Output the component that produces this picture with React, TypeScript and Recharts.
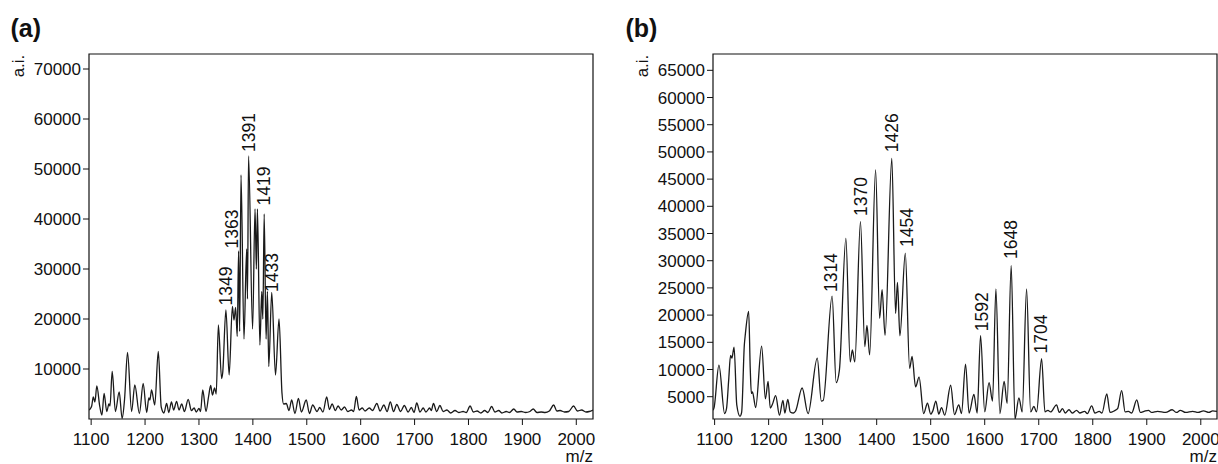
import React from "react";
import {
  ComposedChart,
  Line,
  Scatter,
  XAxis,
  YAxis,
  ReferenceArea,
} from "recharts";

const FONT = '"Liberation Sans", Arial, Helvetica, sans-serif';
const INK = "#111";

// ---------- Panel (a) ----------
const xTicks = [1100, 1200, 1300, 1400, 1500, 1600, 1700, 1800, 1900, 2000];
const yTicksA = [10000, 20000, 30000, 40000, 50000, 60000, 70000];
const domainXA: [number, number] = [1096, 2031];
const domainYA: [number, number] = [0, 73000];

// [m/z, intensity]
const spectrumA: [number, number][] = [
  [1096, 1800], [1098, 2000], [1101, 2600], [1104, 4400], [1107, 3400], [1110.5, 6600],
  [1116, 2500], [1120, 800], [1124, 5100], [1129, 1500], [1133, 3000], [1135, 2600],
  [1139, 9500], [1145, 1500], [1152, 5400], [1157.5, 100], [1162, 4000], [1167.5, 13300],
  [1175, 1500], [1181, 6800], [1189.5, 1100], [1196.5, 7100], [1203, 1300], [1207, 4200],
  [1209, 3800], [1212, 5800], [1218, 2800], [1224.5, 13500], [1230, 2400], [1235, 1200],
  [1240, 3100], [1244, 1300], [1249, 3400], [1253, 1800], [1258.5, 3500], [1263, 1800],
  [1268, 3000], [1273, 1500], [1280, 3900], [1286, 1700], [1291, 2200], [1295, 1400],
  [1300, 2100], [1303, 1500], [1307, 5800], [1313, 1500], [1318, 4600], [1321.7, 6700],
  [1325, 4800], [1329, 6200], [1332, 5000], [1336, 18800], [1342, 8100], [1344, 9200],
  [1350, 21800], [1356, 8800], [1362, 22500], [1365, 19800], [1368, 22300], [1371, 16500],
  [1373.5, 33600], [1375.5, 17500], [1378, 48800], [1383.5, 16000], [1388.5, 34000],
  [1390, 24000], [1392, 52600], [1399.5, 18000], [1404, 42000], [1406.5, 30000],
  [1408.5, 42000], [1413, 14800], [1416.5, 25500], [1418.5, 20000], [1421, 41000],
  [1424.5, 16000], [1427, 25500], [1429.5, 10500], [1435, 25300], [1442, 8800],
  [1448.5, 20000], [1454, 5200], [1457, 3000], [1462, 3100], [1467, 1700], [1472, 3800],
  [1478, 1100], [1484.5, 4100], [1490, 1400], [1499, 3800], [1505, 1100], [1511, 2800],
  [1519, 1500], [1524, 2300], [1530, 1400], [1537, 4400], [1542, 1900], [1547, 3000],
  [1553, 1700], [1558, 2600], [1564, 1800], [1570, 2400], [1576, 1500], [1583, 1800],
  [1587, 1500], [1592, 4500], [1597, 1800], [1603, 2200], [1608, 1600], [1616, 2200],
  [1622, 1700], [1630, 3100], [1636, 1600], [1643, 2800], [1649, 1500], [1655, 3400],
  [1661, 1500], [1667, 2900], [1674, 1500], [1681, 2700], [1688, 1400], [1694, 2300],
  [1699, 1300], [1704, 3200], [1710, 1400], [1716, 2200], [1721, 1400], [1728, 2200],
  [1731, 1700], [1735, 3100], [1741, 1500], [1747, 2700], [1753, 1500], [1760, 1800],
  [1767, 1200], [1775, 1700], [1782, 1300], [1790, 1500], [1796, 1300], [1803, 2600],
  [1809, 1400], [1816, 1600], [1823, 1200], [1830, 1700], [1836, 1300], [1843, 2500],
  [1849, 1400], [1856, 1700], [1862, 1200], [1870, 1500], [1876, 1300], [1884, 2000],
  [1890, 1400], [1898, 1500], [1906, 1300], [1914, 1500], [1920, 2000], [1927, 1300],
  [1935, 1400], [1942, 1300], [1950, 1600], [1958, 2800], [1964, 1600], [1970, 1700],
  [1978, 1400], [1986, 1500], [1995, 2600], [2002, 1600], [2010, 1800], [2018, 1400],
  [2024, 1500], [2031, 1800],
];

const peakLabelsA = ["1349", "1363", "1391", "1419", "1433"];
const peakLabelMzA = [1349, 1361.5, 1391.6, 1419.5, 1435];
const peakLabelYA = [23100, 34500, 53800, 43100, 25800];

// ---------- Panel (b) ----------
const yTicksB = [5000, 10000, 15000, 20000, 25000, 30000, 35000, 40000, 45000, 50000, 55000, 60000, 65000];
const domainXB: [number, number] = [1097, 2030];
const domainYB: [number, number] = [900, 68000];

const spectrumB: [number, number][] = [
  [1097, 2500], [1099, 3000], [1108, 10800], [1118.5, 1900], [1122, 2800], [1126, 8000],
  [1129.5, 12600], [1132, 12100], [1136, 14100], [1141, 3500], [1147, 1400], [1150, 2100],
  [1155, 14500], [1157, 16600], [1163, 20700], [1166, 10000], [1168, 5600], [1170, 5900],
  [1176, 3000], [1187, 14300], [1194, 4600], [1199, 7800], [1203, 2900], [1207, 3600],
  [1213, 5200], [1220, 1600], [1226.5, 4300], [1230, 2000], [1235.5, 4500], [1240, 2200],
  [1246, 2000], [1250, 2400], [1262, 6600], [1273, 1900], [1290, 12100], [1297.5, 4200],
  [1301, 4300], [1317.5, 23500], [1325, 7600], [1331, 9900], [1343, 34100], [1351, 11400],
  [1355, 13600], [1359.5, 11400], [1370, 37200], [1378, 14200], [1382, 18100], [1387, 12700],
  [1398, 46700], [1405.5, 19400], [1410, 24700], [1415.5, 16300], [1428, 48800],
  [1435, 20300], [1438.5, 26000], [1443, 16200], [1453, 31400], [1461, 10200],
  [1465.5, 12400], [1472, 6800], [1478.5, 8600], [1487, 1900], [1494, 3800], [1500, 1800],
  [1504, 2400], [1509.5, 4200], [1515, 1800], [1520, 3000], [1526, 1600], [1537, 7100],
  [1544, 1700], [1552, 3500], [1557, 1900], [1564.5, 11000], [1571, 2000], [1580, 5400],
  [1586, 2000], [1592.3, 16200], [1600, 2200], [1608, 7600], [1614.5, 4200],
  [1620.7, 24800], [1628, 1900], [1636, 7800], [1641.5, 3800], [1649, 29100], [1656, 900],
  [1663.3, 4800], [1669.4, 2200], [1677.5, 24800], [1685, 2200], [1691, 3200], [1696, 2200],
  [1705.3, 12000], [1711.5, 2200], [1717, 2500], [1722, 2200], [1733, 3500], [1738, 2100],
  [1744, 2800], [1749, 2000], [1756, 2600], [1762, 2000], [1770, 2500], [1776, 2000],
  [1785, 2300], [1790, 1900], [1798, 3300], [1804, 2000], [1812, 2300], [1817, 2000],
  [1826, 5500], [1832, 2100], [1840, 2400], [1846, 2800], [1853.5, 6100], [1860, 2200],
  [1866, 2300], [1872, 2000], [1881.5, 4400], [1888, 2100], [1895, 2300], [1903, 2500],
  [1909, 2100], [1920, 2300], [1935, 2100], [1947, 2600], [1955, 2100], [1962, 2500],
  [1972, 2100], [1985, 2300], [1995, 2100], [2005, 2400], [2015, 2100], [2022, 2400],
  [2030, 2300],
];

const peakLabelsB = ["1314", "1370", "1426", "1454", "1592", "1648", "1704"];
const peakLabelMzB = [1314.6, 1370, 1428, 1455.8, 1594.5, 1648, 1703.7];
const peakLabelYB = [24600, 38600, 50300, 32900, 17400, 30700, 13300];

// ---------- helpers ----------
const toRows = (pairs: [number, number][]) => pairs.map(([mz, v]) => ({ mz, v }));
const toLabelRows = (labels: string[], mzs: number[], ys: number[]) =>
  labels.map((label, i) => ({ mz: mzs[i], v: ys[i], label }));

const LABEL_SIZE = 17.5;

const PeakLabel = (props: any) => {
  const { cx, cy, payload } = props;
  if (cx == null || cy == null) return null;
  const bx = cx + LABEL_SIZE * 0.36;
  const by = cy + 2;
  return (
    <text
      x={bx}
      y={by}
      transform={`rotate(-90 ${bx} ${by})`}
      textAnchor="start"
      fontFamily={FONT}
      fontSize={LABEL_SIZE}
      fill={INK}
    >
      {payload.label}
    </text>
  );
};

const tickStyle = { fill: INK, fontSize: 17, fontFamily: FONT };

type PanelProps = {
  left: number;
  width: number;
  marginRight: number;
  spectrum: { mz: number; v: number }[];
  labels: { mz: number; v: number; label: string }[];
  domainX: [number, number];
  domainY: [number, number];
  yTicks: number[];
};

const Panel = ({ left, width, marginRight, spectrum, labels, domainX, domainY, yTicks }: PanelProps) => (
  <div style={{ position: "absolute", left, top: 0 }}>
    <ComposedChart
      width={width}
      height={464}
      margin={{ top: 54, right: marginRight, bottom: 0, left: 0 }}
    >
      <XAxis
        dataKey="mz"
        type="number"
        domain={domainX}
        allowDataOverflow
        ticks={xTicks}
        tick={tickStyle}
        tickLine={{ stroke: INK }}
        tickSize={6}
        tickMargin={8}
        axisLine={false}
        height={45}
        interval={0}
      />
      <YAxis
        type="number"
        domain={domainY}
        allowDataOverflow
        ticks={yTicks}
        tick={tickStyle}
        tickLine={{ stroke: INK }}
        tickSize={6}
        tickMargin={2}
        axisLine={false}
        width={89}
        interval={0}
      />
      <ReferenceArea
        x1={domainX[0]}
        x2={domainX[1]}
        y1={domainY[0]}
        y2={domainY[1]}
        fill="none"
        fillOpacity={0}
        stroke={INK}
        strokeWidth={1.2}
        ifOverflow="visible"
      />
      <Line
        data={spectrum}
        dataKey="v"
        type="monotone"
        stroke="#1a1a1a"
        strokeWidth={1.3}
        dot={false}
        activeDot={false}
        isAnimationActive={false}
      />
      <Scatter
        data={labels}
        dataKey="v"
        shape={PeakLabel}
        isAnimationActive={false}
      />
    </ComposedChart>
  </div>
);

export default function App() {
  return (
    <div
      style={{
        position: "absolute",
        left: 0,
        top: 0,
        width: 1218,
        height: 464,
        background: "#fff",
        overflow: "hidden",
        fontFamily: FONT,
      }}
    >
      <Panel
        left={0}
        width={600}
        marginRight={7}
        spectrum={toRows(spectrumA)}
        labels={toLabelRows(peakLabelsA, peakLabelMzA, peakLabelYA)}
        domainX={domainXA}
        domainY={domainYA}
        yTicks={yTicksA}
      />
      <Panel
        left={624}
        width={594}
        marginRight={1}
        spectrum={toRows(spectrumB)}
        labels={toLabelRows(peakLabelsB, peakLabelMzB, peakLabelYB)}
        domainX={domainXB}
        domainY={domainYB}
        yTicks={yTicksB}
      />
      <svg
        width={1218}
        height={464}
        style={{ position: "absolute", left: 0, top: 0, pointerEvents: "none" }}
      >
        <text x={10.5} y={36.5} fontFamily={FONT} fontWeight="bold" fontSize={25} fill={INK}>
          (a)
        </text>
        <text x={625.5} y={36.5} fontFamily={FONT} fontWeight="bold" fontSize={25} fill={INK}>
          (b)
        </text>
        <text
          x={24}
          y={66}
          transform="rotate(-90 24 66)"
          textAnchor="middle"
          fontFamily={FONT}
          fontSize={17}
          fill={INK}
        >
          a.i.
        </text>
        <text
          x={648}
          y={66}
          transform="rotate(-90 648 66)"
          textAnchor="middle"
          fontFamily={FONT}
          fontSize={17}
          fill={INK}
        >
          a.i.
        </text>
        <text x={593} y={462} textAnchor="end" fontFamily={FONT} fontSize={17} fill={INK}>
          m/z
        </text>
        <text x={1217} y={462} textAnchor="end" fontFamily={FONT} fontSize={17} fill={INK}>
          m/z
        </text>
      </svg>
    </div>
  );
}
